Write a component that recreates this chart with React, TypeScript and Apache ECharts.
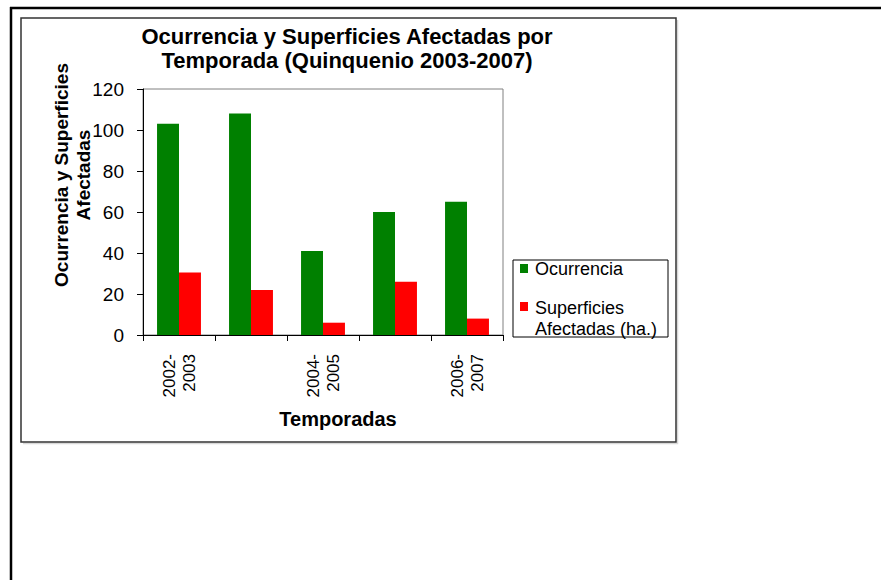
import React, { useEffect, useRef } from "react";
import * as echarts from "echarts";

const categories = ["2002-2003", "2003-2004", "2004-2005", "2005-2006", "2006-2007"];
const ocurrencia = [103, 108, 41, 60, 65];
const superficies = [30.5, 22, 6, 26, 8];
const yTicks = { min: 0, max: 120, interval: 20 };
const seriesNames = ["Ocurrencia", "Superficies Afectadas (ha.)"];
const titleText = "Ocurrencia y Superficies Afectadas por\nTemporada (Quinquenio 2003-2007)";
const yName = "Ocurrencia y Superficies\nAfectadas";
const xName = "Temporadas";

const GREEN = "#008000";
const RED = "#FF0000";
const FONT = "'Liberation Sans', Arial, sans-serif";

export default function App() {
  const ref = useRef<HTMLDivElement>(null);
  useEffect(() => {
    if (!ref.current) return;
    const chart = echarts.init(ref.current, null, { renderer: "svg" });
    chart.setOption({
      animation: false,
      backgroundColor: "#ffffff",
      textStyle: { fontFamily: FONT },
      grid: {
        left: 143,
        top: 89,
        width: 360,
        height: 246,
        show: true,
        borderColor: "#808080",
        borderWidth: 1,
        backgroundColor: "transparent",
      },
      xAxis: {
        type: "category",
        data: categories,
        axisLine: { show: true, lineStyle: { color: "#000", width: 1 } },
        axisTick: { show: true, interval: 0, length: 6, lineStyle: { color: "#000" } },
        axisLabel: {
          interval: 1,
          rotate: 90,
          margin: 19,
          fontSize: 17,
          lineHeight: 20,
          color: "#000",
          fontFamily: FONT,
          formatter: (v: string) => v.replace("-", "-\n"),
        },
        splitLine: { show: false },
      },
      yAxis: {
        type: "value",
        min: yTicks.min,
        max: yTicks.max,
        interval: yTicks.interval,
        axisLine: { show: true, lineStyle: { color: "#000", width: 1 } },
        axisTick: { show: true, length: 6, lineStyle: { color: "#000" } },
        axisLabel: { margin: 19, fontSize: 19, color: "#000", fontFamily: FONT },
        splitLine: { show: false },
      },
      series: [
        {
          name: seriesNames[0],
          type: "bar",
          data: ocurrencia,
          itemStyle: { color: GREEN },
          barGap: "0%",
          barCategoryGap: "39%",
        },
        {
          name: seriesNames[1],
          type: "bar",
          data: superficies,
          itemStyle: { color: RED },
          barGap: "0%",
          barCategoryGap: "39%",
        },
      ],
      graphic: [
        { type: "line", shape: { x1: 10, y1: 8, x2: 881, y2: 8 }, style: { stroke: "#000", lineWidth: 2.5 }, silent: true },
        { type: "line", shape: { x1: 11, y1: 7, x2: 11, y2: 580 }, style: { stroke: "#000", lineWidth: 2.5 }, silent: true },
        { type: "polyline", shape: { points: [[677.5, 20], [677.5, 443.5], [23, 443.5]] }, style: { stroke: "#d8d8d8", lineWidth: 1.5, fill: null }, silent: true },
        { type: "rect", shape: { x: 21, y: 18, width: 655, height: 424 }, style: { stroke: "#333", lineWidth: 1.5, fill: null }, silent: true },
        {
          type: "text",
          x: 347,
          y: 48,
          style: {
            text: titleText,
            font: `bold 22px ${FONT}`,
            lineHeight: 24,
            align: "center",
            verticalAlign: "middle",
            fill: "#000",
          },
        },
        {
          type: "text",
          x: 72,
          y: 175,
          rotation: Math.PI / 2,
          style: {
            text: yName,
            font: `bold 19px ${FONT}`,
            lineHeight: 22,
            align: "center",
            verticalAlign: "middle",
            fill: "#000",
          },
        },
        {
          type: "text",
          x: 338,
          y: 419,
          style: {
            text: xName,
            font: `bold 20px ${FONT}`,
            align: "center",
            verticalAlign: "middle",
            fill: "#000",
          },
        },
        { type: "rect", shape: { x: 513, y: 260, width: 155, height: 77 }, style: { stroke: "#000", lineWidth: 1, fill: "#fff" } },
        { type: "rect", shape: { x: 520, y: 264, width: 8, height: 9 }, style: { fill: GREEN } },
        {
          type: "text",
          x: 535,
          y: 269,
          style: { text: seriesNames[0], font: `18px ${FONT}`, verticalAlign: "middle", align: "left", fill: "#000" },
        },
        { type: "rect", shape: { x: 520, y: 302, width: 8, height: 9 }, style: { fill: RED } },
        {
          type: "text",
          x: 535,
          y: 297,
          style: {
            text: "Superficies\nAfectadas (ha.)",
            font: `18px ${FONT}`,
            lineHeight: 21,
            verticalAlign: "top",
            align: "left",
            fill: "#000",
          },
        },
      ],
    });
    return () => chart.dispose();
  }, []);
  return (
    <div
      ref={ref}
      style={{ position: "fixed", left: 0, top: 0, width: 883, height: 580, background: "#fff" }}
    />
  );
}
